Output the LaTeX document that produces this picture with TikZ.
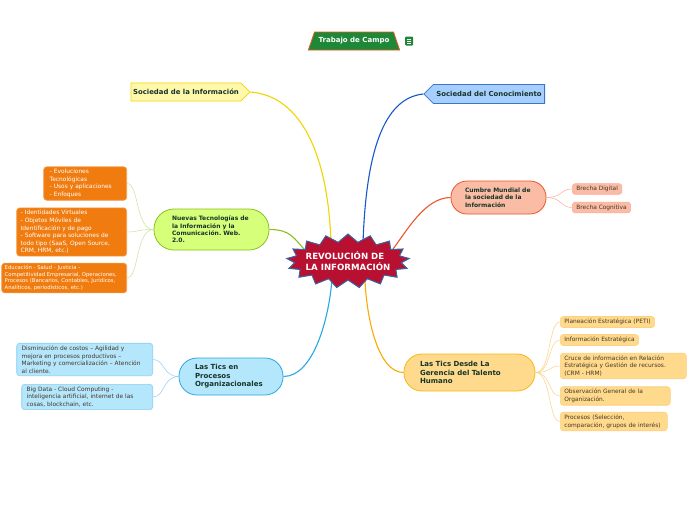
\documentclass[tikz,border=0pt]{standalone}
\usepackage{fontspec}
\setmainfont{DejaVu Sans}
\usetikzlibrary{shapes.geometric,shapes.symbols,backgrounds,calc}
\definecolor{ink}{RGB}{22,52,40}
\definecolor{leafink}{RGB}{70,55,40}
\definecolor{revfill}{RGB}{184,16,48}
\definecolor{revedge}{RGB}{58,100,165}
\definecolor{campo}{RGB}{30,136,56}
\definecolor{campoedge}{RGB}{230,90,30}
\definecolor{infofill}{RGB}{255,248,170}
\definecolor{infoedge}{RGB}{240,214,0}
\definecolor{conofill}{RGB}{166,206,255}
\definecolor{conoedge}{RGB}{60,118,200}
\definecolor{conolink}{RGB}{22,88,200}
\definecolor{cumfill}{RGB}{250,188,165}
\definecolor{cumedge}{RGB}{236,86,40}
\definecolor{cumtwig}{RGB}{250,172,150}
\definecolor{nuefill}{RGB}{214,255,122}
\definecolor{nueedge}{RGB}{140,192,30}
\definecolor{nuetwig}{RGB}{200,228,150}
\definecolor{orafill}{RGB}{240,124,16}
\definecolor{oraedge}{RGB}{246,160,80}
\definecolor{procfill}{RGB}{180,230,252}
\definecolor{procedge}{RGB}{40,168,226}
\definecolor{proctwig}{RGB}{140,205,240}
\definecolor{gerfill}{RGB}{255,218,140}
\definecolor{geredge}{RGB}{245,184,20}
\definecolor{gerlink}{RGB}{250,170,0}
\definecolor{gertwig}{RGB}{252,210,130}

\begin{document}
\frenchspacing
\begin{tikzpicture}[x=1pt,y=-1pt,
  main/.style={rectangle,rounded corners=18pt,draw,line width=0.8pt,align=left,text=ink,
    inner xsep=16pt,inner ysep=2pt,font=\fontsize{7}{8.5}\selectfont\bfseries},
  small/.style={main,rounded corners=16pt,font=\fontsize{6}{7.3}\selectfont\bfseries},
  leaf/.style={rectangle,rounded corners=3pt,draw,line width=0.6pt,align=left,text=leafink,
    inner xsep=4pt,inner ysep=2.5pt,font=\fontsize{5.9}{7.6}\selectfont},
  orange/.style={leaf,fill=orafill,draw=oraedge,text=white},
  sign/.style={signal,draw,line width=0.8pt,text=ink,inner xsep=2pt,
    minimum height=18pt,font=\fontsize{6.9}{8}\selectfont\bfseries},
  link/.style={line width=1.1pt},
  twig/.style={line width=0.5pt}]
  \useasboundingbox (0,0) rectangle (696,520);
  % top title
  \node[trapezium,trapezium angle=66,trapezium stretches=true,minimum width=92pt,minimum height=18pt,
    fill=campo,draw=campoedge,line width=0.8pt,text=white,font=\fontsize{7}{8}\selectfont\bfseries] (campo) at (354,41) {Trabajo de Campo};
  \node[fill=campo,rounded corners=1pt,minimum width=8pt,minimum height=9pt,inner sep=0pt] (icon) at (409,41) {};
  \foreach \dy in {-2,0,2} \draw[white,line width=0.6pt] ($(icon)+(-2,\dy)$) -- ($(icon)+(2,\dy)$);
  % centre
  \node[starburst,starburst points=17,starburst point height=8pt,random starburst=0,
    fill=revfill,draw=revedge,line width=1pt,minimum width=123pt,minimum height=54pt,inner xsep=-5pt,inner ysep=-3pt,
    align=left,text=white,font=\fontsize{8.6}{11}\selectfont\bfseries] (rev) at (348,261) {REVOLUCIÓN DE\\LA INFORMACIÓN};
  % first level
  \node[sign,signal to=east,fill=infofill,draw=infoedge] (socinf) at (186,92) {Sociedad de la Información};
  \node[sign,signal to=west,fill=conofill,draw=conoedge,minimum height=19pt,inner xsep=3pt] (socon) at (489,94) {Sociedad del Conocimiento};
  \node[small,fill=cumfill,draw=cumedge,inner xsep=14pt,text width=67pt,minimum height=33pt] (cumbre) at (498.5,197.5) {Cumbre Mundial de\\la sociedad de la\\Información};
  \node[small,fill=nuefill,draw=nueedge,rounded corners=20pt,inner xsep=18pt,text width=79pt,minimum height=41pt] (nuevas) at (211.5,229.5) {Nuevas Tecnologías de\\la Información y la\\Comunicación. Web.\\2.0.};
  \node[main,fill=procfill,draw=procedge,text width=72pt,minimum height=37pt] (ticsp) at (231,376.5) {Las Tics en\\Procesos\\Organizacionales};
  \node[main,fill=gerfill,draw=geredge,text width=99pt,minimum height=37pt] (ticsg) at (469.5,372.5) {Las Tics Desde La\\Gerencia del Talento\\Humano};
  % second level
  \node[leaf,fill=cumfill,draw=cumtwig,anchor=west] (bdig) at (572,189) {Brecha Digital};
  \node[leaf,fill=cumfill,draw=cumtwig,anchor=west] (bcog) at (572,207.5) {Brecha Cognitiva};
  \node[orange,anchor=east,inner xsep=6pt,text width=71pt] (evol) at (127,183.5) {- Evoluciones\\Tecnológicas\\- Usos y aplicaciones\\- Enfoques};
  \node[orange,anchor=east,text width=102pt] (ident) at (127,232) {- Identidades Virtuales\\- Objetos Móviles de\\Identificación y de pago\\- Software para soluciones de\\todo tipo (SaaS, Open Source,\\CRM, HRM, etc.)};
  \node[orange,anchor=east,inner xsep=3pt,text width=119pt,inner ysep=2pt,font=\fontsize{5.3}{6.8}\selectfont] (educ) at (127,278) {Educación - Salud - Justicia -\\Competitividad Empresarial, Operaciones,\\Procesos (Bancarios, Contables, Jurídicos,\\Analíticos, periodísticos, etc.)};
  \node[leaf,fill=procfill,draw=proctwig,anchor=east,inner xsep=5pt,text width=126pt] (costos) at (153,359.5) {Disminución de costos – Agilidad y\\mejora en procesos productivos –\\Marketing y comercialización – Atención\\al cliente.};
  \node[leaf,fill=procfill,draw=proctwig,anchor=east,inner xsep=5pt,text width=121pt] (bigdata) at (153,397) {Big Data - Cloud Computing -\\inteligencia artificial, internet de las\\cosas, blockchain, etc.};
  \node[leaf,fill=gerfill,draw=gertwig,anchor=west] (peti) at (560,322) {Planeación Estratégica (PETI)};
  \node[leaf,fill=gerfill,draw=gertwig,anchor=west] (infoe) at (560,340) {Información Estratégica};
  \node[leaf,fill=gerfill,draw=gertwig,anchor=west,text width=118pt] (cruce) at (560,366) {Cruce de información en Relación\\Estratégica y Gestión de recursos.\\(CRM - HRM)};
  \node[leaf,fill=gerfill,draw=gertwig,anchor=west,text width=102pt] (obs) at (560,396) {Observación General de la\\Organización.};
  \node[leaf,fill=gerfill,draw=gertwig,anchor=west,text width=99pt] (proc) at (560,421.5) {Procesos (Selección,\\comparación, grupos de interés)};
  % connectors
  \begin{scope}[on background layer]
    \fill[white] (0,0) rectangle (696,520);
    \draw[link,infoedge] (socinf.east) .. controls +(50,4) and +(-3,-90) .. ($(rev)+(-17,-18)$);
    \draw[link,conolink] (socon.west) .. controls +(-40,4) and +(3,-90) .. ($(rev)+(15,-18)$);
    \draw[link,cumedge] (cumbre.west) .. controls +(-25,0) and +(15,-20) .. ($(rev)+(45,-12)$);
    \draw[link,nueedge] (nuevas.east) .. controls +(22,0) and +(-12,-12) .. ($(rev)+(-42,-10)$);
    \draw[link,procedge] (ticsp.east) .. controls +(30,0) and +(-3,40) .. ($(rev)+(-16,18)$);
    \draw[link,gerlink] (ticsg.west) .. controls +(-25,0) and +(2,40) .. ($(rev)+(17,20)$);
  \end{scope}
  \foreach \t in {bdig,bcog}
    \draw[twig,cumtwig] (cumbre.east) .. controls +(16,0) and +(-12,0) .. (\t.west);
  \foreach \t in {evol,ident,educ}
    \draw[twig,nuetwig] (nuevas.west) .. controls +(-18,0) and +(12,0) .. (\t.east);
  \foreach \t in {costos,bigdata}
    \draw[twig,proctwig] (ticsp.west) .. controls +(-16,0) and +(12,0) .. (\t.east);
  \foreach \t in {peti,infoe,cruce,obs,proc}
    \draw[twig,gertwig] (ticsg.east) .. controls +(16,0) and +(-12,0) .. (\t.west);
\end{tikzpicture}
\end{document}
